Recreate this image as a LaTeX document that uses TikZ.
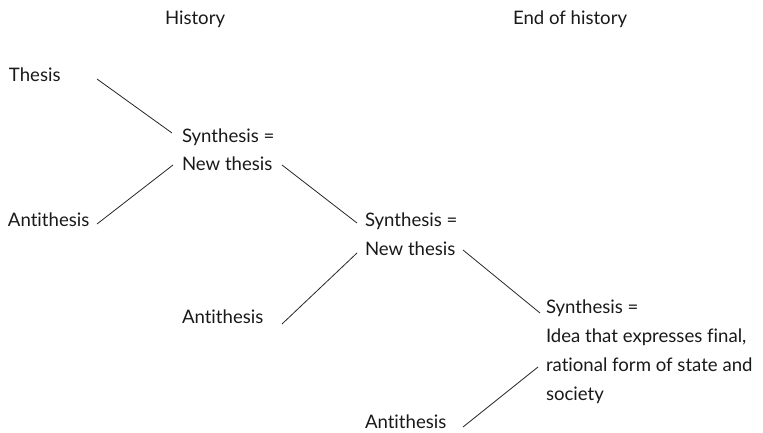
\documentclass[tikz,border=0pt]{standalone}
\usepackage{fontspec}
\setmainfont[Ligatures=NoCommon]{Lato}
\begin{document}
\begin{tikzpicture}[x=1pt,y=-1pt,
  lbl/.style={anchor=base west,inner sep=0pt,outer sep=0pt,align=left,
    font=\fontsize{18.6}{28.8}\selectfont,text=black!90},
  conn/.style={draw=black!85,line width=0.8pt}]
\useasboundingbox (0,0) rectangle (763,433);
\node[lbl] (hist) at (165,24.5) {History};
\node[lbl] (endh) at (513,24.5) {End of history};
\node[lbl] (thesis) at (9,82) {Thesis};
\node[lbl] (syn1) at (182,171) {Synthesis =\\New thesis};
\node[lbl] (anti1) at (8,226) {Antithesis};
\node[lbl] (syn2) at (365,255) {Synthesis =\\New thesis};
\node[lbl] (anti2) at (182,323) {Antithesis};
\node[lbl] (syn3) at (546,400) {Synthesis =\\Idea that expresses final,\\rational form of state and\\society};
\node[lbl] (anti3) at (365,428) {Antithesis};
\draw[conn] ([shift={(88,-3)}]thesis.base west) -- ([shift={(-10,-38)}]syn1.base west);
\draw[conn] ([shift={(89,-2)}]anti1.base west) -- ([shift={(-9,-6)}]syn1.base west);
\draw[conn] ([shift={(100,-6)}]syn1.base west) -- ([shift={(-8,-32)}]syn2.base west);
\draw[conn] ([shift={(100,1)}]anti2.base west) -- ([shift={(-8,-2)}]syn2.base west);
\draw[conn] ([shift={(98,-5)}]syn2.base west) -- ([shift={(-6,-87)}]syn3.base west);
\draw[conn] ([shift={(98,-1)}]anti3.base west) -- ([shift={(-8,-33)}]syn3.base west);
\end{tikzpicture}
\end{document}
